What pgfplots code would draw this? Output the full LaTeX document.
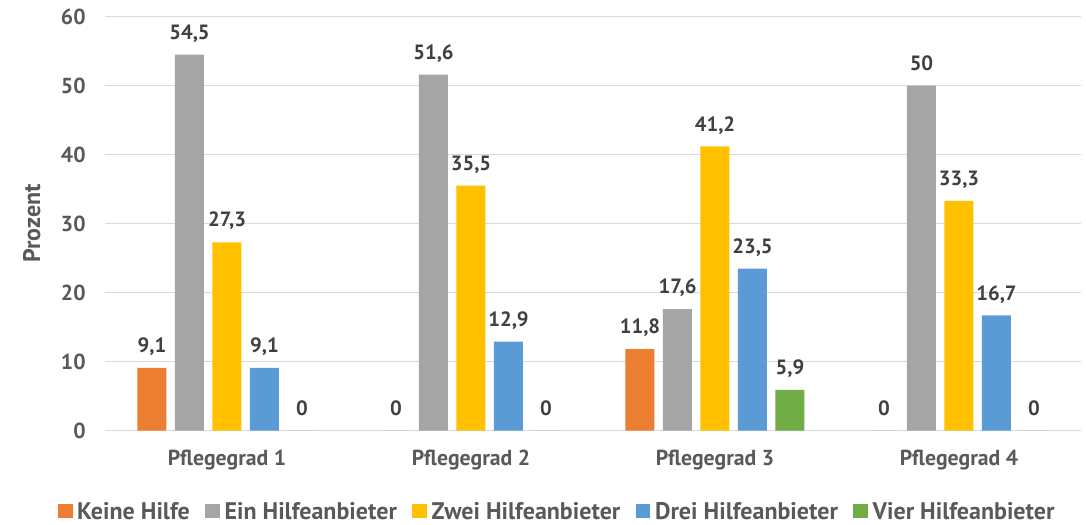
\documentclass[border=0pt]{standalone}
\usepackage{fontspec}
\setmainfont{PT Sans}
\usepackage{pgfplots}
\pgfplotsset{compat=1.18}
\definecolor{cOr}{HTML}{ED7D31}
\definecolor{cGr}{HTML}{A5A5A5}
\definecolor{cYe}{HTML}{FFC000}
\definecolor{cBl}{HTML}{5B9BD5}
\definecolor{cGn}{HTML}{70AD47}
\definecolor{txt}{HTML}{595959}
\definecolor{lbl}{HTML}{404040}
\definecolor{grd}{HTML}{D9D9D9}
\newcommand{\cf}{\fontsize{16.3pt}{19pt}\selectfont\bfseries}
\newcommand{\nf}{\fontsize{15.5pt}{19pt}\selectfont\bfseries}
\newcommand{\lf}{\fontsize{18pt}{20pt}\selectfont\bfseries}
\begin{document}
\begin{tikzpicture}
\path[use as bounding box] (-78.75pt,-70.7pt) rectangle (735.75pt,323pt);
\begin{axis}[
  at={(0,0)}, anchor=south west,
  scale only axis, width=732pt, height=310.5pt,
  ybar, bar width=21.75pt,
  xmin=-0.5, xmax=3.5, ymin=0, ymax=60,
  xtick={0,1,2,3},
  xticklabels={Pflegegrad 1,Pflegegrad 2,Pflegegrad 3,Pflegegrad 4},
  ytick={0,10,20,30,40,50,60},
  ymajorgrids, grid style={grd, line width=0.9pt},
  axis line style={draw=none}, tick style={draw=none},
  ticklabel style={text=txt, font=\cf},
  xticklabel style={anchor=base, yshift=-22pt},
  yticklabel style={anchor=east, xshift=-11pt},
  ylabel={Prozent},
  every axis y label/.style={at={(axis description cs:0,0.5)}, xshift=-55pt, rotate=90, anchor=center, text=txt, font=\lf},
  clip=false,
  nodes near coords,
  every node near coord/.append style={text=lbl, font=\nf, anchor=base, yshift=11.5pt},
  legend columns=5,
  legend style={at={(axis description cs:0.4647,-0.196)}, anchor=center, draw=none, fill=none, text=txt, font=\lf,
    nodes={inner ysep=2.5pt, inner xsep=3.5pt},
    /tikz/every even column/.append style={column sep=8pt}},
  /pgf/number format/.cd, use comma, fixed, precision=1, assume math mode=true
]
\addplot[fill=cOr, draw=none, bar shift=-56.25pt, legend image code/.code={\fill[cOr] (0pt,-5pt) rectangle (11pt,6pt);}] coordinates {(0,9.1) (1,0) (2,11.8) (3,0)};
\addplot[fill=cGr, draw=none, bar shift=-28.125pt, legend image code/.code={\fill[cGr] (0pt,-5pt) rectangle (11pt,6pt);}] coordinates {(0,54.5) (1,51.6) (2,17.6) (3,50)};
\addplot[fill=cYe, draw=none, bar shift=0pt, legend image code/.code={\fill[cYe] (0pt,-5pt) rectangle (11pt,6pt);}] coordinates {(0,27.3) (1,35.5) (2,41.2) (3,33.3)};
\addplot[fill=cBl, draw=none, bar shift=28.125pt, legend image code/.code={\fill[cBl] (0pt,-5pt) rectangle (11pt,6pt);}] coordinates {(0,9.1) (1,12.9) (2,23.5) (3,16.7)};
\addplot[fill=cGn, draw=none, bar shift=56.25pt, legend image code/.code={\fill[cGn] (0pt,-5pt) rectangle (11pt,6pt);}] coordinates {(0,0) (1,0) (2,5.9) (3,0)};
\legend{Keine Hilfe,Ein Hilfeanbieter,Zwei Hilfeanbieter,Drei Hilfeanbieter,Vier Hilfeanbieter}
\end{axis}
\end{tikzpicture}
\end{document}
